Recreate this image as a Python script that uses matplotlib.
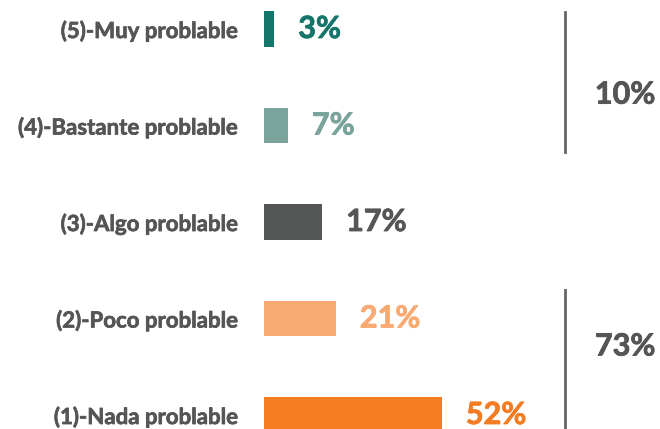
import matplotlib.pyplot as plt
import matplotlib.patheffects as pe

plt.rcParams['font.family'] = ['Lato', 'DejaVu Sans']

# answers, top to bottom
categories = ['(5)-Muy problable', '(4)-Bastante problable', '(3)-Algo problable',
              '(2)-Poco problable', '(1)-Nada problable']
values = [3, 7, 17, 21, 52]
colors = ['#16756a', '#79a39b', '#555756', '#f8aa72', '#f47d23']

# groups shown on the right: rows, line extent (rows units), label y
groups = [([0, 1], (-0.176, 1.275), 0.68), ([3, 4], (2.70, 4.3), 3.29)]

fig = plt.figure(figsize=(6.6, 4.29), dpi=100)
ax = fig.add_axes([264 / 660, 0, 396 / 660, 1])

ypos = list(range(len(values)))
bars = ax.barh(ypos, values, height=0.373, color=colors)

for b, v, c in zip(bars, values, colors):
    ax.annotate(f'{v}%', (b.get_width(), b.get_y() + b.get_height() / 2),
                xytext=(24, 0), textcoords='offset pixels',
                va='center', ha='left', fontsize=22, fontweight='bold', color=c,
                path_effects=[pe.withStroke(linewidth=0.6, foreground=c)])

for i, cat in enumerate(categories):
    ax.annotate(cat, (0, i), xytext=(-26, -2), textcoords='offset pixels',
                va='center', ha='right', fontsize=16, fontweight='bold',
                color='#555555', annotation_clip=False,
                path_effects=[pe.withStroke(linewidth=0.5, foreground='#555555')])

ax.set_xlim(0, 396 / 3.42)
ax.set_ylim(429 / 96.5 - 29 / 96.5, -29 / 96.5)

line_x = (565 - 264) / 3.42
label_x = (625 - 264) / 3.42
for rows, (y0, y1), ly in groups:
    ax.plot([line_x, line_x], [y0, y1], color='#666666', lw=2)
    total = sum(values[r] for r in rows)
    ax.text(label_x, ly, f'{total}%', ha='center', va='center', fontsize=22,
            fontweight='bold', color='#555555',
            path_effects=[pe.withStroke(linewidth=0.6, foreground='#555555')])

ax.axis('off')
fig.savefig('out.png', dpi=100)
